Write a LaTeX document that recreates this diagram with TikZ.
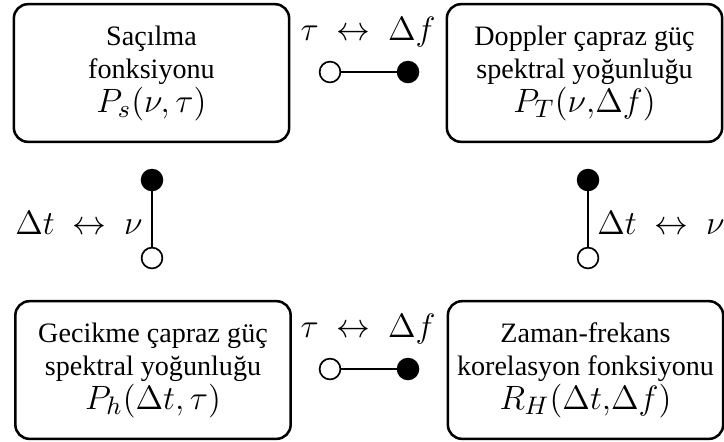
\documentclass[tikz,border=0pt]{standalone}
\usepackage{fontspec}
\setmainfont{Liberation Serif}
\usetikzlibrary{positioning}
\tikzset{
  box/.style={draw,line width=0.9pt,rounded corners=5pt,align=center,
    minimum width=3.44cm,minimum height=1.72cm,inner sep=2pt,
    font=\fontsize{10}{11.9}\selectfont},
  opendot/.style={circle,draw,semithick,fill=white,minimum size=0.26cm,inner sep=0pt},
  fulldot/.style={circle,draw,semithick,fill=black,minimum size=0.26cm,inner sep=0pt},
  link/.style={semithick},
  rel/.style={inner sep=1pt,font=\fontsize{12}{14}\selectfont}
}
\newcommand{\fnsize}{\fontsize{12.7}{14}\selectfont}
\begin{document}
\begin{tikzpicture}[x=0.0125cm,y=-0.0125cm]
  \useasboundingbox (0,0) rectangle (724,441);
  % the four functions
  \node[box] (scat) at (151.5,73) {Saçılma\\fonksiyonu\\{\fnsize $P_s(\nu,\tau)$}};
  \node[box] (doppler) at (584.5,73) {Doppler çapraz güç\\spektral yoğunluğu\\{\fnsize $P_T(\nu{,}\Delta f)$}};
  \node[box] (delay) at (153,370) {Gecikme çapraz güç\\spektral yoğunluğu\\{\fnsize $P_h(\Delta t,\tau)$}};
  \node[box] (corr) at (585.5,370) {Zaman-frekans\\korelasyon fonksiyonu\\{\fnsize $R_H(\Delta t{,}\Delta f)$}};
  % top pair
  \node[rel] (toplbl) at (368,32) {$\tau\ \leftrightarrow\ \Delta f$};
  \node[opendot] (topa) at (330,72) {};
  \node[fulldot] (topb) at (408,72) {};
  \draw[link] (topa) -- (topb);
  % left pair
  \node[rel,anchor=east] (leftlbl) at (146,223) {$\Delta t\ \leftrightarrow\ \nu$};
  \node[fulldot] (lefta) at (152,180) {};
  \node[opendot] (leftb) at (152,258) {};
  \draw[link] (lefta) -- (leftb);
  % right pair
  \node[rel,anchor=west] (rightlbl) at (594,223) {$\Delta t\ \leftrightarrow\ \nu$};
  \node[fulldot] (righta) at (588,180) {};
  \node[opendot] (rightb) at (588,258) {};
  \draw[link] (righta) -- (rightb);
  % bottom pair
  \node[rel] (botlbl) at (368,329) {$\tau\ \leftrightarrow\ \Delta f$};
  \node[opendot] (bota) at (330,369) {};
  \node[fulldot] (botb) at (408,369) {};
  \draw[link] (bota) -- (botb);
\end{tikzpicture}
\end{document}
